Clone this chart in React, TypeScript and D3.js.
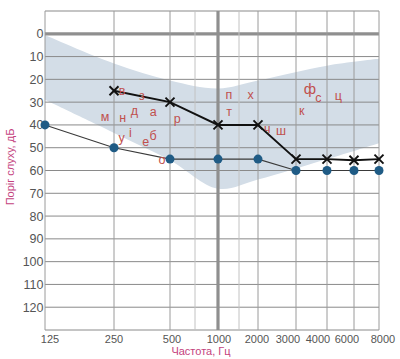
import React from "react";
import * as d3 from "d3";

// Axis layout (drawn audiogram form, non-log spacing)
const freqStops = [125, 250, 500, 750, 1000, 1500, 2000, 3000, 4000, 6000, 8000];
const freqStopPx = [45, 114, 170, 195, 218, 239, 258, 296, 327, 354, 379];
const xTickLabels = [125, 250, 500, 1000, 2000, 3000, 4000, 6000, 8000];
const xTickLabelShift = [5, 0, 2, 1, -1, -8, -9, -7, 4];
const minorFreqs = [750, 1500];
const dbTicks = [0, 10, 20, 30, 40, 50, 60, 70, 80, 90, 100, 110, 120];
const dbGrid = [-10, 0, 10, 20, 30, 40, 50, 60, 70, 80, 90, 100, 110, 120, 130];

// Speech banana band
const bandFreqs = [125, 250, 500, 1000, 2000, 4000, 8000];
const bandUpper = [0.5, 13, 20.5, 24, 20.5, 14, 11];
const bandLower = [29, 43.5, 55.5, 68, 64, 55, 48];

// Air conduction (X)
const airFreqs = [250, 500, 1000, 2000, 3000, 4000, 6000, 8000];
const airDb = [25, 30, 40, 40, 55, 55, 55.5, 55];

// Bone / second series (dots)
const dotFreqs = [125, 250, 500, 1000, 2000, 3000, 4000, 6000, 8000];
const dotDb = [40, 50, 55, 55, 55, 60, 60, 60, 60];

// Speech sound letters
const letterChars = ["в", "з", "м", "н", "д", "а", "р", "у", "і", "е", "б", "о", "п", "х", "т", "ф", "с", "ц", "к", "ч", "ш"];
const letterFreqs = [286, 374, 234, 289, 341, 425, 573, 284, 323, 392, 425, 464, 1262, 1807, 1262, 3452, 3720, 4837, 3184, 2245, 2605];
const letterDb = [25.3, 27.5, 36.7, 37, 34.1, 34.4, 37.3, 45.8, 43.6, 47.5, 44.8, 55.3, 26.8, 26.8, 34.4, 24.6, 28.2, 27.2, 34.1, 42.1, 42.9];

const FONT = "'Liberation Sans', Arial, Helvetica, sans-serif";

export default function App() {
  const x = d3.scaleLinear().domain(freqStops).range(freqStopPx);
  const y = d3.scaleLinear().domain([-10, 130]).range([11, 330]);
  const left = x(125);
  const right = x(8000);
  const top = y(-10);
  const bottom = y(130);

  const band = d3
    .area<number>()
    .x((_, i) => x(bandFreqs[i]))
    .y0((_, i) => y(bandLower[i]))
    .y1((_, i) => y(bandUpper[i]))
    .curve(d3.curveCatmullRom.alpha(0.5));

  const line = d3.line<[number, number]>().x((d) => x(d[0])).y((d) => y(d[1]));
  const airPts: [number, number][] = airFreqs.map((f, i) => [f, airDb[i]]);
  const dotPts: [number, number][] = dotFreqs.map((f, i) => [f, dotDb[i]]);

  return (
    <svg
      width={400}
      height={359}
      style={{ position: "absolute", left: 0, top: 0, background: "#fff" }}
      fontFamily={FONT}
    >
      <rect x={0} y={0} width={400} height={359} fill="#fff" />
      <path d={band(bandFreqs) || ""} fill="#d3dde7" />

      {/* horizontal grid */}
      {dbGrid.map((v) => (
        <line
          key={"h" + v}
          x1={left}
          x2={right}
          y1={y(v)}
          y2={y(v)}
          stroke={v === 0 ? "#8f8f8f" : "#8a8a8a"}
          strokeWidth={v === 0 ? 3.2 : v === -10 ? 1.2 : 1}
        />
      ))}
      {/* vertical grid */}
      {freqStops.map((f) => (
        <line
          key={"v" + f}
          x1={x(f)}
          x2={x(f)}
          y1={top}
          y2={bottom}
          stroke={f === 1000 ? "#8f8f8f" : minorFreqs.includes(f) ? "#c2c2c2" : "#9a9a9a"}
          strokeWidth={f === 1000 ? 3.2 : 1}
        />
      ))}

      {/* y tick labels */}
      {dbTicks.map((v) => (
        <text
          key={"yt" + v}
          x={43.5}
          y={y(v)}
          dy="0.36em"
          textAnchor="end"
          fontSize={12.5}
          fill="#555"
        >
          {v}
        </text>
      ))}
      {/* x tick labels */}
      {xTickLabels.map((f, i) => (
        <text
          key={"xt" + f}
          x={x(f) + xTickLabelShift[i]}
          y={339}
          dy="0.36em"
          textAnchor="middle"
          fontSize={11}
          fill="#555"
        >
          {f}
        </text>
      ))}

      {/* axis titles */}
      <text
        transform={`translate(10,167) rotate(-90)`}
        textAnchor="middle"
        dy="0.35em"
        fontSize={11}
        fill="#c4427e"
      >
        Поріг слуху, дБ
      </text>
      <text x={201} y={351} dy="0.35em" textAnchor="middle" fontSize={11} fill="#c4427e">
        Частота, Гц
      </text>

      {/* dot series */}
      <path d={line(dotPts) || ""} fill="none" stroke="#3a3a3a" strokeWidth={1.1} />
      {dotPts.map((p, i) => (
        <circle key={"c" + i} cx={x(p[0])} cy={y(p[1])} r={4.5} fill="#1f5b85" />
      ))}

      {/* air series */}
      <path d={line(airPts) || ""} fill="none" stroke="#111" strokeWidth={1.9} />
      {airPts.map((p, i) => {
        const cx = x(p[0]);
        const cy = y(p[1]);
        const s = 4.5;
        return (
          <g key={"x" + i} stroke="#111" strokeWidth={1.9}>
            <line x1={cx - s} y1={cy - s} x2={cx + s} y2={cy + s} />
            <line x1={cx - s} y1={cy + s} x2={cx + s} y2={cy - s} />
          </g>
        );
      })}

      {/* letters */}
      {letterChars.map((ch, i) => (
        <text
          key={"l" + i}
          x={x(letterFreqs[i])}
          y={y(letterDb[i])}
          dy="0.3em"
          textAnchor="middle"
          fontSize={ch === "ф" ? 15 : 12.5}
          fill="#c0504d"
        >
          {ch}
        </text>
      ))}
    </svg>
  );
}
